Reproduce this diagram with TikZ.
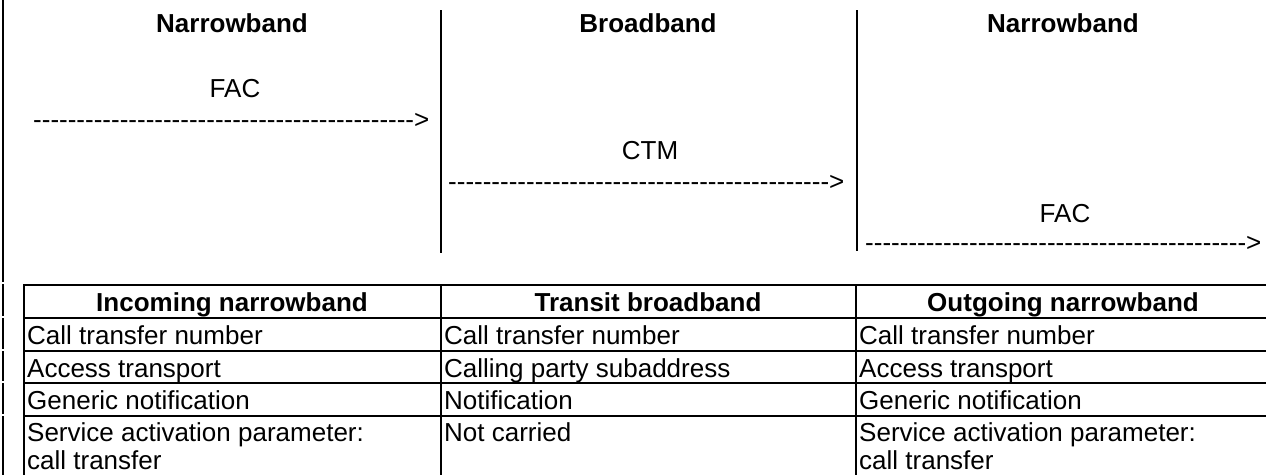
\documentclass[tikz,border=0pt]{standalone}
\usepackage{fontspec}
\setmainfont{Liberation Sans}
\newcommand\dashrow{\foreach \i in {1,...,44}{-\kern0pt}>}
\begin{document}
\begin{tikzpicture}[x=1pt,y=-1pt,
  txt/.style={inner sep=0pt, font=\fontsize{26}{30}\selectfont},
  hdr/.style={inner sep=0pt, font=\fontsize{26}{30}\selectfont\bfseries},
  sepline/.style={line width=2pt},
  gridline/.style={line width=2pt}]
\useasboundingbox (0,0) rectangle (1266,475);
\fill[white] (0,0) rectangle (1266,475);

% column headings
\node[hdr,anchor=base] (h1) at (232,32) {Narrowband};
\node[hdr,anchor=base] (h2) at (648,32) {Broadband};
\node[hdr,anchor=base] (h3) at (1063,32) {Narrowband};

% messages
\node[txt,anchor=base] (m1) at (235,97) {FAC};
\node[txt,anchor=base west] (a1) at (33,128) {\dashrow};
\node[txt,anchor=base] (m2) at (650,159) {CTM};
\node[txt,anchor=base west] (a2) at (448,190) {\dashrow};
\node[txt,anchor=base] (m3) at (1065,222) {FAC};
\node[txt,anchor=base west] (a3) at (865,251) {\dashrow};

% separators
\coordinate (v1t) at (441,10); \coordinate (v1b) at (441,253);
\coordinate (v2t) at (857,10); \coordinate (v2b) at (857,251);
\draw[sepline] (v1t) -- (v1b);
\draw[sepline] (v2t) -- (v2b);

% left border (segmented)
\coordinate (l0) at (3,0);
\coordinate (l1a) at (3,282); \coordinate (l1b) at (3,284);
\coordinate (l2a) at (3,316); \coordinate (l2b) at (3,318);
\coordinate (l3a) at (3,349); \coordinate (l3b) at (3,351);
\coordinate (l4a) at (3,381); \coordinate (l4b) at (3,383);
\coordinate (l5a) at (3,414); \coordinate (l5b) at (3,416);
\coordinate (l6) at (3,475);
\draw[sepline] (l0) -- (l1a) (l1b) -- (l2a) (l2b) -- (l3a) (l3b) -- (l4a) (l4b) -- (l5a) (l5b) -- (l6);

% table grid
\foreach \y in {285,318,351,383,416}{
  \draw[gridline] (23,\y) -- (1266,\y);
}
\foreach \x in {24,441,856}{
  \draw[gridline] (\x,285) -- (\x,475);
}

% table headers
\node[hdr,anchor=base] (t1) at (232,311) {Incoming narrowband};
\node[hdr,anchor=base] (t2) at (648,311) {Transit broadband};
\node[hdr,anchor=base] (t3) at (1063,311) {Outgoing narrowband};

% row 1
\node[txt,anchor=base west] (c11) at (27,344) {Call transfer number};
\node[txt,anchor=base west] (c12) at (444,344) {Call transfer number};
\node[txt,anchor=base west] (c13) at (859,344) {Call transfer number};
% row 2
\node[txt,anchor=base west] (c21) at (27,377) {Access transport};
\node[txt,anchor=base west] (c22) at (444,377) {Calling party subaddress};
\node[txt,anchor=base west] (c23) at (859,377) {Access transport};
% row 3
\node[txt,anchor=base west] (c31) at (27,409) {Generic notification};
\node[txt,anchor=base west] (c32) at (444,409) {Notification};
\node[txt,anchor=base west] (c33) at (859,409) {Generic notification};
% row 4
\node[txt,anchor=base west] (c41) at (27,441) {Service activation parameter:};
\node[txt,anchor=base west] (c41b) at (27,469) {call transfer};
\node[txt,anchor=base west] (c42) at (444,441) {Not carried};
\node[txt,anchor=base west] (c43) at (859,441) {Service activation parameter:};
\node[txt,anchor=base west] (c43b) at (859,469) {call transfer};
\end{tikzpicture}
\end{document}
